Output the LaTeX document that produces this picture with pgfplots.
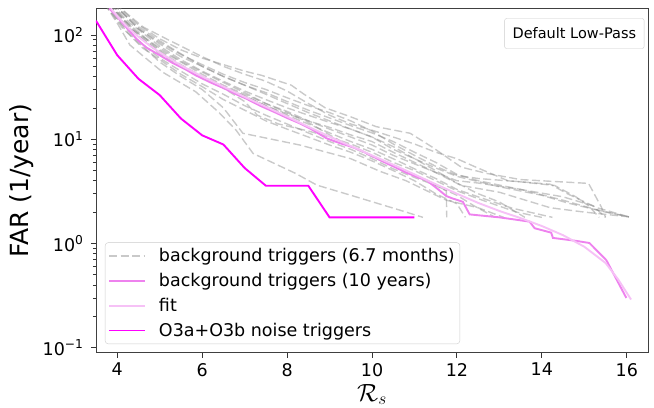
\documentclass[border=0pt]{standalone}
\usepackage{fontspec}
\setmainfont{DejaVu Sans}
\usepackage{pgfplots}
\pgfplotsset{compat=1.18}
\definecolor{violetline}{HTML}{EE82EE}
\definecolor{fitline}{HTML}{F6C1F6}
\definecolor{magline}{HTML}{FF00FF}
\begin{document}
\begin{tikzpicture}
\begin{axis}[
 scale only axis, width=552pt, height=344pt,
 ymode=log, xmin=3.5, xmax=16.5, ymin=0.0895, ymax=178.8,
 xtick={4,6,8,10,12,14,16},
 ytick={0.1,1,10,100},
 yticklabels={10\textsuperscript{−1},10\textsuperscript{0},10\textsuperscript{1},10\textsuperscript{2}},
 minor ytick={0.2,0.3,0.4,0.5,0.6,0.7,0.8,0.9,2,3,4,5,6,7,8,9,20,30,40,50,60,70,80,90},
 tick pos=left, tick align=outside,
 major tick length=5pt, minor tick length=3pt,
 tick style={black!80, line width=0.9pt},
 minor tick style={line width=0.7pt},
 axis line style={line width=0.9pt, black!75},
 ticklabel style={font=\fontsize{17.5}{20}\selectfont},
 xticklabel style={yshift=-2pt},
 yticklabel style={xshift=-4pt},
 /pgf/number format/assume math mode=true,
 xlabel={$\mathcal{R}_s$}, ylabel={FAR (1/year)},
 xlabel style={font=\fontsize{24}{28}\selectfont, inner sep=0pt, at={(axis description cs:0.5,-0.141)}, anchor=base},
 ylabel style={font=\fontsize{25}{30}\selectfont, inner sep=0pt, at={(axis description cs:-0.135,0.5)}, anchor=center},
 legend style={at={(0.0163,0.0253)}, anchor=south west, draw=black!20,
   rounded corners=3pt, fill=white, fill opacity=0.8, text opacity=1, draw opacity=1,
   font=\fontsize{17.5}{20}\selectfont, inner xsep=3pt, inner ysep=4pt, row sep=6pt,
   /tikz/every odd column/.append style={column sep=11pt}},
 legend cell align=left,
 legend image code/.code={\draw[line width=1.8pt, #1] (0pt,0pt) -- (36pt,0pt);},
 gstyle/.style={gray, opacity=0.42, line width=1.4pt, dash pattern=on 8pt off 3.5pt},
 cline/.style={solid, line width=1.9pt},
]
\coordinate (SW) at (rel axis cs:0,0);
\coordinate (NE) at (rel axis cs:1,1);
% legend images
\addlegendimage{gstyle}
\addlegendentry{background triggers (6.7 months)}
\addlegendimage{color=violetline, cline}
\addlegendentry{background triggers (10 years)}
\addlegendimage{color=fitline, cline}
\addlegendentry{fit}
\addlegendimage{color=magline, cline}
\addlegendentry{O3a+O3b noise triggers}
% grey dashed background lines (6.7 months)
\addplot[gstyle,forget plot] coordinates {(3.95,200)(4.5,125)(5,92)(5.5,72)(6,60)(6.5,52)(7,45)(7.4,41)(8.1,33)(8.4,27)(8.9,20)(9.5,16.4)(10.1,13.2)(10.9,11.4)(11.4,8.5)(12.1,5.4)(12.7,4.7)(13.5,4.1)(15.1,3.77)(15.4,2.24)(15.5,1.78)};
\addplot[gstyle,forget plot] coordinates {(3.9,200)(4.5,115)(5,85)(5.5,65)(6,52)(6.5,42)(7,35)(7.5,30)(8,25)(8.5,21)(9,18)(9.5,15)(10,12)(10.5,9)(11,7)(11.5,5.5)(12,4.5)(12.5,4.2)(13.5,3.9)(14.3,3.6)(14.8,2.8)(15.1,2.3)(15.35,1.78)};
\addplot[gstyle,forget plot] coordinates {(3.85,200)(4.3,130)(5,78)(5.5,58)(6,45)(6.5,36)(7,29)(7.5,24)(8,20)(8.5,17)(9,14.5)(9.5,12.5)(10,10.5)(10.5,8)(11,6.5)(11.5,5.3)(12,4.4)(13,3.5)(14,2.9)(14.6,2.45)(15.5,2.0)(16.05,1.8)};
\addplot[gstyle,forget plot] coordinates {(3.8,200)(4.2,135)(5,72)(5.5,55)(6,42)(6.5,33)(7,27)(7.5,22)(8,18.5)(8.5,15)(9,12.5)(9.5,10.5)(10,8.8)(10.5,7)(11,5.8)(11.5,4.8)(12.1,3.6)(13,3.1)(14.2,2.2)(15,2.0)(16.05,1.8)};
\addplot[gstyle,forget plot] coordinates {(3.75,200)(4.2,125)(5,66)(5.5,50)(6,40)(6.5,32)(7,26)(7.5,21)(8,17.5)(8.5,15)(9,13)(9.5,11)(10,9.5)(10.5,7.5)(11,6)(11.5,4.8)(12,4.0)(12.5,3.8)(13.5,3.3)(14.5,2.8)(15.2,2.3)(15.5,1.78)};
\addplot[gstyle,forget plot] coordinates {(3.7,200)(4,140)(4.5,88)(5,60)(5.5,45)(6,34)(6.5,27)(7,21)(7.5,17)(8,14)(8.5,11.5)(9,9.5)(9.5,8)(10,6.5)(10.5,5.2)(11,4.3)(11.5,3.6)(11.75,3.2)(11.76,1.78)};
\addplot[gstyle,forget plot] coordinates {(3.7,200)(4,130)(4.3,80)(5.07,44)(5.85,28.5)(6.4,18)(6.8,12.2)(7.2,7.3)(8.2,4.7)(8.7,3.63)(9.5,2.9)(10.65,2.09)(11.2,1.78)};
\addplot[gstyle,forget plot] coordinates {(3.75,200)(4.2,110)(5,55)(5.5,40)(6,30)(6.5,20)(6.96,11.4)(8.3,8.8)(9.5,6.5)(10.2,4.9)(10.8,4.0)(11.75,2.6)(12.5,2.2)(13.1,1.78)};
\addplot[gstyle,forget plot] coordinates {(3.8,200)(4.3,120)(5,70)(5.5,52)(6,40)(6.5,32)(7,26)(7.5,21)(8,17)(8.5,14)(9,11.5)(9.5,9.5)(10,8)(10.5,6.5)(11,5.2)(11.5,4.2)(12,3.3)(12.5,2.8)(13.3,2.18)(14.25,1.78)};
\addplot[gstyle,forget plot] coordinates {(3.85,200)(4.4,110)(5,75)(5.5,56)(6,44)(6.5,35)(7,28)(7.5,22)(8,18)(8.5,14.5)(9,11)(9.5,8.5)(10,6.8)(10.5,5.5)(11,4.5)(11.5,3.6)(12,2.9)(12.4,2.3)(12.9,1.78)};
\addplot[gstyle,forget plot] coordinates {(3.9,200)(4.5,120)(5,88)(5.5,66)(6,50)(6.5,40)(7,33)(7.5,27)(8,22)(8.5,18)(9,15)(9.5,12.5)(10,10.5)(10.5,8.5)(11,6.5)(11.5,5)(12,3.8)(12.5,3.0)(13,2.5)(13.6,1.78)};
\addplot[gstyle,forget plot] coordinates {(3.7,200)(4.1,120)(4.6,75)(5,58)(5.5,42)(6,32)(6.5,24)(7,19)(7.5,15)(8,12.5)(8.5,10.5)(9,8.8)(9.5,7.5)(10,6.2)(10.5,5.0)(11,4.0)(11.5,3.0)(12,2.4)(12.2,1.78)};
\addplot[gstyle,forget plot] coordinates {(3.8,200)(4.3,115)(5,68)(5.5,50)(6,39)(6.5,31)(7,23)(7.3,17)(7.8,14)(8.5,12)(9,10.5)(9.5,9)(10,7.5)(10.5,6)(11,5)(11.5,4)(12,3.2)(12.6,2.6)(13.4,2.0)(14,1.78)};
\addplot[gstyle,forget plot] coordinates {(3.9,200)(4.5,115)(5,82)(5.5,62)(6,50)(6.5,40)(7,33)(7.5,28)(8,23)(8.5,19)(9,16)(9.5,13.5)(10,11.5)(10.5,9.5)(11,7.5)(11.5,6)(12,4.6)(12.5,4.0)(13.5,3.3)(14.5,2.6)(15.3,2.1)(16.05,1.8)};
\addplot[gstyle,forget plot] coordinates {(3.95,200)(4.6,120)(5.2,90)(6,62)(6.5,50)(7,42)(7.5,36)(8,29)(8.5,22)(9,17)(9.5,14)(10,12.2)(10.5,10.5)(11,9)(11.5,7.5)(12,6.5)(12.4,5.5)(13.2,4.0)(14.2,3.7)(14.6,3.0)(15.3,2.2)(16.05,1.8)};
% background triggers (10 years)
\addplot[color=violetline, cline, forget plot] coordinates {(3.81,180)(3.95,158)(4.2,120)(4.45,92)(4.68,76)(5.0,64)(5.3,54)(5.6,47)(5.85,41)(6.2,35)(6.5,31)(6.8,27)(7.03,24.6)(7.36,21)(7.73,18)(8.0,16)(8.3,14.2)(8.6,12.3)(8.93,10.2)(9.2,9.3)(9.5,8.5)(9.71,7.9)(10.0,6.9)(10.3,6.0)(10.5,5.5)(10.8,4.8)(11.12,4.25)(11.28,4.05)(11.52,3.4)(11.75,2.85)(11.9,2.7)(12.14,2.51)(12.3,1.9)(13.0,1.78)(13.71,1.62)(13.83,1.40)(14.22,1.27)(14.26,1.13)(14.8,1.06)(15.12,1.01)(15.52,0.69)(15.99,0.30)};
% fit
\addplot[color=fitline, cline, forget plot] coordinates {(3.85,180)(4.0,152)(4.25,118)(4.5,96)(4.75,80)(5.0,68)(5.5,51)(6.0,40)(6.5,32)(7.0,25.5)(7.5,20.5)(8.0,16.5)(8.5,13.2)(9.0,10.6)(9.5,8.6)(10.0,7.0)(10.5,5.7)(11.0,4.6)(11.5,3.7)(12.0,3.0)(12.5,2.45)(13.0,2.05)(13.5,1.75)(14.0,1.47)(14.5,1.2)(15.0,0.93)(15.5,0.65)(15.8,0.45)(16.1,0.29)};
% O3a+O3b noise triggers
\addplot[color=magline, cline, forget plot] coordinates {(3.5,137)(4,64)(4.5,38)(5,26.5)(5.5,15.8)(6,10.9)(6.5,8.9)(7,5.3)(7.5,3.58)(8.5,3.58)(9,1.78)(11,1.78)};
\node[draw=black!20, rounded corners=2pt, fill=white, anchor=north east,
  minimum height=30pt, inner xsep=8pt, font=\fontsize{14.5}{17}\selectfont]
  at (rel axis cs:0.9933,0.972) {Default Low-Pass};
\end{axis}
\pgfresetboundingbox
\path ([shift={(-96pt,-54.3pt)}]SW) rectangle ([shift={(6pt,8.7pt)}]NE);
\end{tikzpicture}
\end{document}
